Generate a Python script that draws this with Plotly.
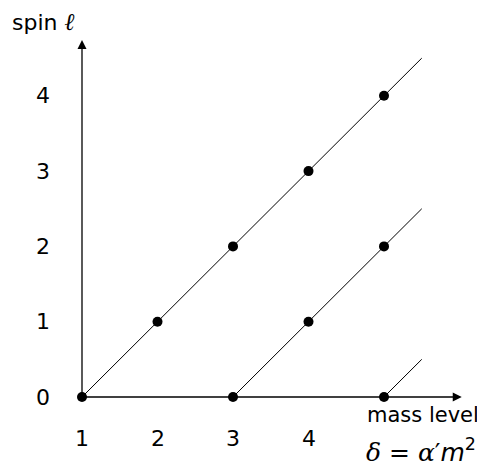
import plotly.graph_objects as go

# Data
traj_start_x = [1, 3, 5]          # mass level where each trajectory starts (spin 0)
traj_end_x = 5.5                  # trajectories drawn up to this mass level
state_x = [1, 2, 3, 4, 5, 3, 4, 5, 5]
state_y = [0, 1, 2, 3, 4, 0, 1, 2, 0]
x_ticks = [1, 2, 3, 4]
y_ticks = [0, 1, 2, 3, 4]
x_axis_end = 6.03
y_axis_end = 4.74

FONT = "DejaVu Sans"
FS = 22
OFF = 8  # page body margin
SX, SY = 75.5, 75.3
X0P, Y0P = 82, 397  # page pixel of origin (1, 0)

fig = go.Figure()

for x0 in traj_start_x:
    fig.add_trace(go.Scatter(x=[x0, traj_end_x], y=[0, traj_end_x - x0], mode="lines",
                             line=dict(color="black", width=1), showlegend=False, hoverinfo="skip"))

fig.add_trace(go.Scatter(x=[1, x_axis_end - 0.05], y=[0, 0], mode="lines", line=dict(color="black", width=1.3),
                         showlegend=False, hoverinfo="skip"))
fig.add_trace(go.Scatter(x=[1, 1], y=[0, y_axis_end - 0.05], mode="lines", line=dict(color="black", width=1.3),
                         showlegend=False, hoverinfo="skip"))
# arrow heads
fig.add_trace(go.Scatter(x=[x_axis_end, 1], y=[0, y_axis_end], mode="markers",
                         marker=dict(symbol=["arrow-right", "arrow-up"], size=9, color="black",
                                     line=dict(width=0)),
                         showlegend=False, hoverinfo="skip"))

fig.add_trace(go.Scatter(x=state_x, y=state_y, mode="markers",
                         marker=dict(color="black", size=10), showlegend=False))

ann = []
for t in x_ticks:
    ann.append(dict(x=t, y=-0.545, xref="x", yref="y", text=str(t), showarrow=False,
                    font=dict(family=FONT, size=FS, color="black")))
for t in y_ticks:
    ann.append(dict(x=0.48, y=t, xref="x", yref="y", text=str(t), showarrow=False,
                    font=dict(family=FONT, size=FS, color="black")))
ann.append(dict(x=0.04, y=4.98, xref="x", yref="y", xanchor="left", showarrow=False,
                text="spin <span style='font-family:DejaVu Serif;font-size:24px'><i>ℓ</i></span>",
                font=dict(family=FONT, size=FS, color="black")))
ann.append(dict(x=5.51, y=-0.24, xref="x", yref="y", showarrow=False, text="mass level",
                font=dict(family=FONT, size=21, color="black")))
ann.append(dict(x=5.49, y=-0.71, xref="x", yref="y", showarrow=False,
                text="<span style='font-family:DejaVu Serif'><i>δ</i> = <i>α</i>′</span><i>m</i><sup>2</sup>",
                font=dict(family=FONT, size=25, color="black")))

fig.update_layout(
    width=485 - OFF, height=469 - OFF, margin=dict(l=0, r=0, t=0, b=0),
    plot_bgcolor="white", paper_bgcolor="white",
    xaxis=dict(range=[1 - (X0P - OFF) / SX, 1 + (485 - X0P) / SX], visible=False, fixedrange=True),
    yaxis=dict(range=[-(469 - Y0P) / SY, (Y0P - OFF) / SY], visible=False, fixedrange=True),
    annotations=ann,
)
fig.write_html("out.html")
